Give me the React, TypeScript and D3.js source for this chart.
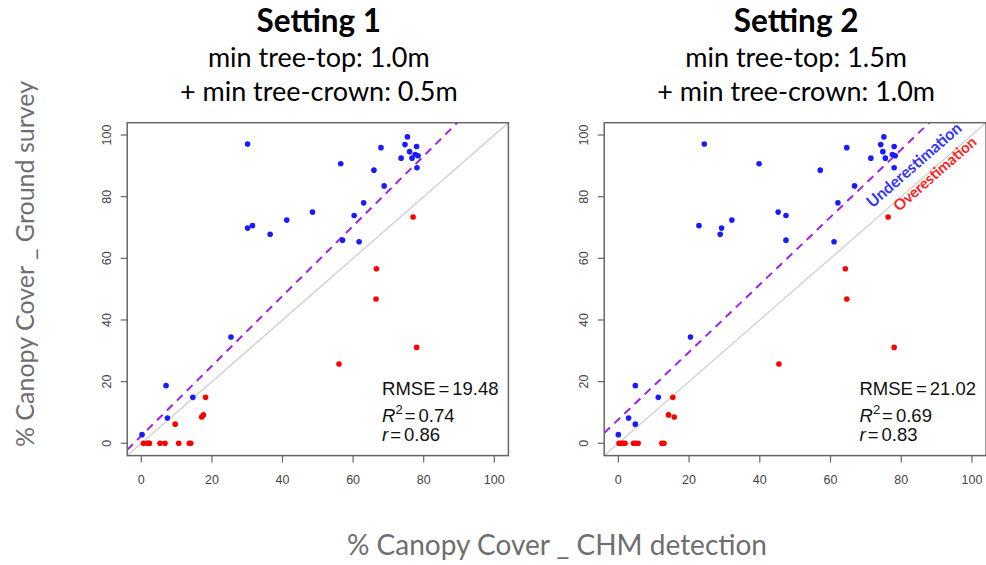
import React from "react";
import * as d3 from "d3";

const groundSurvey = [99.4, 97.1, 96.9, 96.3, 95.9, 94.6, 93.7, 93.3, 92.5, 92.5, 90.7, 89.4, 88.6, 83.5, 78.0, 75.0, 73.9, 72.4, 70.6, 69.8, 67.8, 65.9, 65.4, 73.4, 56.6, 46.8, 34.5, 31.1, 25.7, 18.7, 14.9, 14.9, 9.2, 8.5, 8.2, 6.2, 2.8, 0, 0, 0, 0, 0, 0, 0, 0, 0];
const chmSetting1 = [75.4, 30.1, 74.7, 78.0, 67.9, 76.0, 77.6, 78.4, 73.6, 76.7, 56.5, 78.1, 65.9, 68.8, 63.0, 48.5, 60.3, 41.2, 31.5, 30.1, 36.5, 57.0, 61.7, 77.0, 66.6, 66.5, 25.4, 78.0, 56.0, 7.0, 14.6, 18.2, 17.6, 17.1, 7.4, 9.6, 0.2, 0.6, 1.7, 2.0, 2.3, 5.3, 6.7, 10.6, 13.6, 14.0];
const chmSetting2 = [75.1, 24.3, 74.2, 78.0, 64.6, 74.8, 77.5, 78.3, 71.4, 75.5, 39.8, 78.0, 57.1, 66.8, 62.1, 45.2, 47.4, 32.1, 22.8, 29.2, 28.8, 47.4, 61.0, 76.3, 64.2, 64.6, 20.4, 78.0, 45.4, 4.8, 11.3, 15.4, 14.2, 15.8, 2.9, 4.8, 0.0, 0.2, 0.8, 1.4, 1.9, 4.3, 4.8, 5.6, 12.3, 12.9];

const ticks = [0, 20, 40, 60, 80, 100];
const titles = ["Setting 1", "Setting 2"];
const subtitle1 = ["min tree-top: 1.0m", "min tree-top: 1.5m"];
const subtitle2 = ["+ min tree-crown: 0.5m", "+ min tree-crown: 1.0m"];
const rmse = ["19.48", "21.02"];
const r2 = ["0.74", "0.69"];
const rval = ["0.86", "0.83"];
const fitSlope = [1.135, 1.095];
const fitIntercept = [2.4, 7.7];

const W = 986;
const H = 565;
const sansC = "Lato, 'Open Sans', sans-serif";
const sansR = "'Liberation Sans', Arial, sans-serif";

function Panel({ idx, x0, x1 }: { idx: number; x0: number; x1: number }) {
  const xs = idx === 0 ? chmSetting1 : chmSetting2;
  const x = d3.scaleLinear().domain([-4, 104]).range([x0, x1]);
  const y = d3.scaleLinear().domain([-4, 104]).range([455.6, 122.7]);
  const cx = (x0 + x1) / 2 + 1;
  const clipId = `clip${idx}`;
  const line = d3.line<number[]>().x((d) => x(d[0])).y((d) => y(d[1]));
  const s = fitSlope[idx];
  const b = fitIntercept[idx];
  const fitPts = [[-4, s * -4 + b], [(104 - b) / s, 104]];
  const onePts = [[-4, -4], [104, 104]];
  const tx = x(68.2);
  return (
    <g>
      <text x={cx} y={32} textAnchor="middle" fontFamily={sansC} fontWeight={700} fontSize={31.5}>{titles[idx]}</text>
      <text x={cx} y={67} textAnchor="middle" fontFamily={sansC} fontSize={27}>{subtitle1[idx]}</text>
      <text x={cx} y={100.5} textAnchor="middle" fontFamily={sansC} fontSize={27}>{subtitle2[idx]}</text>
      <defs>
        <clipPath id={clipId}>
          <rect x={x0} y={122.7} width={x1 - x0} height={455.6 - 122.7} />
        </clipPath>
      </defs>
      <g clipPath={`url(#${clipId})`}>
        <path d={line(onePts as any) || ""} stroke="#cccccc" strokeWidth={1.2} fill="none" />
        <path d={line(fitPts as any) || ""} stroke="#a020f0" strokeWidth={2} strokeDasharray="8,6" fill="none" />
        {xs.map((v, i) => (
          <circle key={i} cx={x(v)} cy={y(groundSurvey[i])} r={2.8} fill={v > groundSurvey[i] ? "#ff0000" : "#1a1aff"} />
        ))}
      </g>
      <rect x={x0} y={122.7} width={x1 - x0} height={455.6 - 122.7} fill="none" stroke="#666" strokeWidth={1.5} />
      {ticks.map((t) => (
        <g key={"x" + t}>
          <line x1={x(t)} x2={x(t)} y1={455.6} y2={462.5} stroke="#666" strokeWidth={1.2} />
          <text x={x(t)} y={484} textAnchor="middle" fontFamily={sansR} fontSize={12.5} fill="#444">{t}</text>
        </g>
      ))}
      {ticks.map((t) => (
        <g key={"y" + t}>
          <line x1={x0} x2={x0 - 6.5} y1={y(t)} y2={y(t)} stroke="#666" strokeWidth={1.2} />
          <text transform={`translate(${x0 - 16},${y(t)}) rotate(-90)`} textAnchor="middle" fontFamily={sansR} fontSize={12.5} fill="#444">{t}</text>
        </g>
      ))}
      <g fontFamily={sansR} fontSize={18.5} fill="#111">
        <text x={tx} y={395}>RMSE<tspan dx={3}>=</tspan><tspan dx={3}>{rmse[idx]}</tspan></text>
        <text x={tx} y={421.5}><tspan fontStyle="italic">R</tspan><tspan fontSize={13} dy={-8}>2</tspan><tspan dy={8} dx={2}>=</tspan><tspan dx={3}>{r2[idx]}</tspan></text>
        <text x={tx} y={440.5}><tspan fontStyle="italic">r</tspan><tspan dx={2}>=</tspan><tspan dx={3}>{rval[idx]}</tspan></text>
      </g>
    </g>
  );
}

export default function App() {
  const angle = -Math.atan((3.083 / 3.537)) * 180 / Math.PI;
  return (
    <div style={{ position: "fixed", left: 0, top: 0, width: W, height: H, background: "#fff" }}>
      <svg width={W} height={H} viewBox={`0 0 ${W} ${H}`} style={{ display: "block" }}>
        <rect width={W} height={H} fill="#fff" />
        <Panel idx={0} x0={127.2} x1={508.4} />
        <Panel idx={1} x0={604.2} x1={986.1} />
        <text transform={`translate(872.5,208.5) rotate(${angle})`} fontFamily={sansC} fontWeight={700} fontSize={16} fill="#3333ff">Underestimation</text>
        <text transform={`translate(899,212) rotate(${angle})`} fontFamily={sansC} fontWeight={700} fontSize={15} fill="#ff2020">Overestimation</text>
        <text transform="translate(34,264) rotate(-90)" textAnchor="middle" fontFamily={sansC} fontSize={25} fill="#6e6e6e">% Canopy Cover _ Ground survey</text>
        <text x={557} y={555} textAnchor="middle" fontFamily={sansC} fontSize={28} fill="#6e6e6e">% Canopy Cover _ CHM detection</text>
      </svg>
    </div>
  );
}
